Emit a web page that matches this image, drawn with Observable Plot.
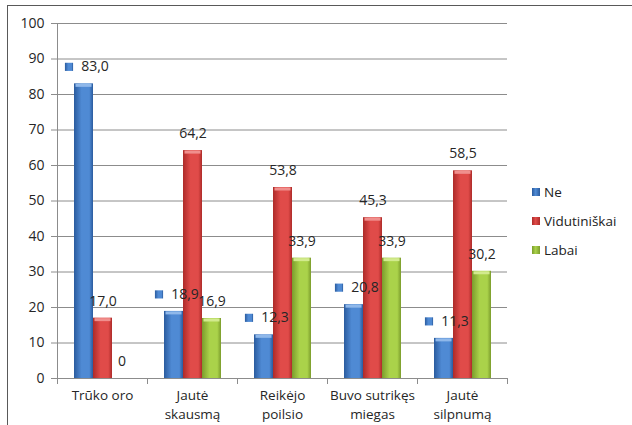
<!DOCTYPE html>
<html>
<head>
<meta charset="utf-8">
<script src="https://cdn.jsdelivr.net/npm/d3@7"></script>
<script src="https://cdn.jsdelivr.net/npm/@observablehq/plot@0.6"></script>
<style>
  body { margin: 0; background: #fff; font-family: "Open Sans", sans-serif; }
  #wrap { position: relative; width: 632px; height: 425px; overflow: hidden; }
  #frame { position: absolute; left: 7px; top: 5px; right: -4px; bottom: -4px;
           border-left: 1.5px solid #595959; border-top: 1.5px solid #595959; }
  #chart { position: absolute; left: 0; top: 0; }
  #legend { position: absolute; left: 532px; top: 177px; font-size: 13.5px; color: #222; }
  .item { display: flex; align-items: center; height: 29px; }
  .sw { width: 8px; height: 8px; margin-right: 4px; }
</style>
</head>
<body>
<div id="wrap">
  <div id="frame"></div>
  <div id="chart"></div>
  <div id="legend"></div>
</div>
<script>
// Survey answers per symptom (percent)
const categories = ["Trūko oro", "Jautė\nskausmą", "Reikėjo\npoilsio", "Buvo sutrikęs\nmiegas", "Jautė\nsilpnumą"];
const series = ["Ne", "Vidutiniškai", "Labai"];
const ne = [83.0, 18.9, 12.3, 20.8, 11.3];
const vidutiniskai = [17.0, 64.2, 53.8, 45.3, 58.5];
const labai = [0, 16.9, 33.9, 33.9, 30.2];
const yTicks = [0, 10, 20, 30, 40, 50, 60, 70, 80, 90, 100];

// Bar shading: dark edge, light middle, dark edge, plus a pale top cap
const palette = {
  "Ne":           {id: "g-ne",  dark: "#2a5b9e", mid: "#4f8ad4", cap: "#8fb8ea"},
  "Vidutiniškai": {id: "g-vid", dark: "#ad2b29", mid: "#e04b49", cap: "#f08f8d"},
  "Labai":        {id: "g-lab", dark: "#7b9c2c", mid: "#aad24a", cap: "#d2ea8e"}
};

const valuesBySeries = {"Ne": ne, "Vidutiniškai": vidutiniskai, "Labai": labai};
const rows = series.flatMap(s => categories.map((c, i) => ({category: c, series: s, value: valuesBySeries[s][i]})));
const fmt = v => v === 0 ? "0" : v.toFixed(1).replace(".", ",");

const barMarks = series.flatMap(s => {
  const d = rows.filter(r => r.series === s);
  const p = palette[s];
  return [
    Plot.barY(d, {fx: "category", x: "series", y: "value", fill: `url(#${p.id})`}),
    Plot.tickY(d.filter(r => r.value > 0), {fx: "category", x: "series", y: "value", stroke: p.cap, strokeWidth: 3, dy: 1.5, inset: 1.5})
  ];
});

const neRows = rows.filter(r => r.series === "Ne");
const otherRows = rows.filter(r => r.series !== "Ne");

const plot = Plot.plot({
  width: 632,
  height: 425,
  marginLeft: 56,
  marginRight: 124,
  marginTop: 23,
  marginBottom: 47,
  style: {fontFamily: "'Open Sans', sans-serif", fontSize: "13.5px", color: "#262626", background: "transparent"},
  fx: {domain: categories, paddingInner: 0, paddingOuter: 0, axis: null},
  x: {domain: series, paddingInner: 0, paddingOuter: 0.76, axis: null},
  y: {domain: [0, 100], axis: null},
  marks: [
    Plot.gridY(yTicks, {stroke: "#8c8c8c", strokeOpacity: 1, strokeWidth: 1}),
    Plot.axisY(yTicks, {tickSize: 6, tickPadding: 7, label: null, stroke: "#8c8c8c", fontSize: 14}),
    Plot.axisFx({anchor: "bottom", tickSize: 0, tickPadding: 9, label: null, lineHeight: 1.35, fontSize: 13.5}),
    ...barMarks,
    Plot.ruleY([0], {stroke: "#8c8c8c"}),
    Plot.text(otherRows, {fx: "category", x: "series", y: "value", text: d => fmt(d.value), dy: -17, fontSize: 14, fill: "#262626"}),
    Plot.text(neRows, {fx: "category", x: "series", y: "value", text: d => fmt(d.value), dy: -17, dx: 11, fontSize: 14, fill: "#262626"}),
    Plot.dot(neRows, {fx: "category", x: "series", y: "value", symbol: "square", r: 4.6, dy: -17, dx: -15, fill: `url(#${palette["Ne"].id})`, stroke: null})
  ]
});

// gradients for bars, keys and legend
const svg = d3.select(plot);
const defs = svg.insert("defs", ":first-child");
for (const s of series) {
  const p = palette[s];
  const g = defs.append("linearGradient").attr("id", p.id).attr("x1", 0).attr("x2", 1).attr("y1", 0).attr("y2", 0);
  g.append("stop").attr("offset", "0%").attr("stop-color", p.dark);
  g.append("stop").attr("offset", "40%").attr("stop-color", p.mid);
  g.append("stop").attr("offset", "80%").attr("stop-color", p.mid);
  g.append("stop").attr("offset", "100%").attr("stop-color", p.dark);
}

// vertical value axis line and category boundary ticks
const fx = plot.scale("fx");
const y = plot.scale("y");
const x0 = fx.apply(categories[0]);
const y0 = y.apply(0);
const axisG = svg.append("g").attr("stroke", "#8c8c8c").attr("stroke-width", 1);
axisG.append("line").attr("x1", x0 + 0.5).attr("x2", x0 + 0.5).attr("y1", y.apply(100)).attr("y2", y0);
const bounds = categories.map(c => fx.apply(c)).concat([fx.apply(categories[categories.length - 1]) + fx.bandwidth]);
for (const b of bounds) {
  axisG.append("line").attr("x1", b + 0.5).attr("x2", b + 0.5).attr("y1", y0).attr("y2", y0 + 6);
}

document.getElementById("chart").appendChild(plot);

// legend
const legend = d3.select("#legend");
for (const s of series) {
  const p = palette[s];
  const item = legend.append("div").attr("class", "item");
  item.append("div").attr("class", "sw").style("background", `linear-gradient(to right, ${p.dark}, ${p.mid} 45%, ${p.dark})`);
  item.append("span").text(s);
}
</script>
</body>
</html>
